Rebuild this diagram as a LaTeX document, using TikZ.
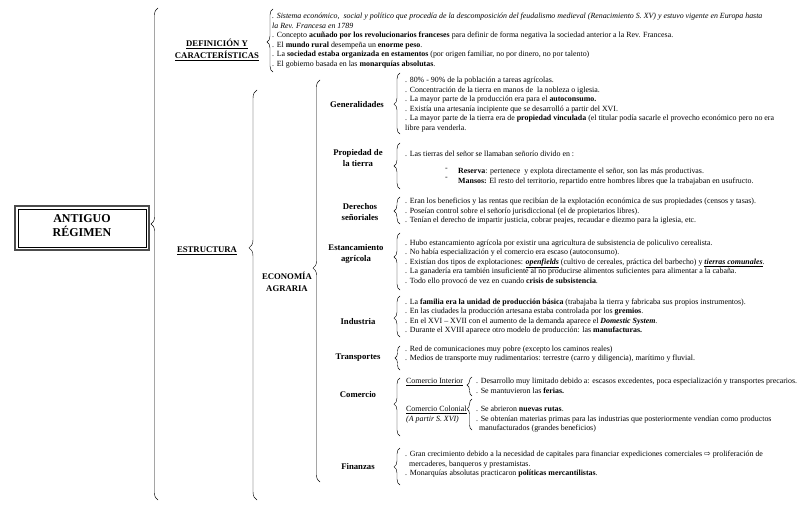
\documentclass[tikz,border=0pt]{standalone}
\usepackage{fontspec}
\setmainfont{Liberation Serif}
\newfontfamily\djv{DejaVu Sans}
\usetikzlibrary{decorations.pathreplacing}
\tikzset{
  txt/.style={anchor=north west, inner sep=0pt, align=left, font=\fontsize{7.9}{9.55}\selectfont},
  lab/.style={inner sep=0pt, align=center, font=\bfseries\fontsize{8.7}{11.5}\selectfont},
  brc/.style={decorate, line width=0.45pt},
}
\begin{document}
\begin{tikzpicture}[x=1pt,y=-1pt]
\useasboundingbox (0,0) rectangle (800,506);
% main box
\draw[line width=1.4pt, black!70] (15,206) rectangle (149,250);
\draw[line width=0.45pt] (17.8,208.8) rectangle (146.2,247.2);
\node[inner sep=0pt, align=center, font=\bfseries\fontsize{12}{14}\selectfont] (ar) at (82,226) {ANTIGUO\\RÉGIMEN};
% level 1 labels
\node[lab] (def) at (217,50) {\underline{DEFINICIÓN Y}\\\underline{CARACTERÍSTICAS}};
\node[lab] (est) at (207,251) {\underline{ESTRUCTURA}};
\node[lab] (eco) at (287,282) {ECONOMÍA\\AGRARIA};
% braces level
\coordinate (b1t) at (158,8); \coordinate (b1b) at (158,500);
\draw[brc, decoration={brace, amplitude=7pt, aspect=0.561}] (b1b) -- (b1t);
\coordinate (b2t) at (273,9); \coordinate (b2b) at (273,72);
\draw[brc, decoration={brace, amplitude=6pt, aspect=0.476}] (b2b) -- (b2t);
\coordinate (b3t) at (257,90); \coordinate (b3b) at (257,500);
\draw[brc, decoration={brace, amplitude=8pt, aspect=0.615}] (b3b) -- (b3t);
\coordinate (b4t) at (320,80); \coordinate (b4b) at (320,482);
\draw[brc, decoration={brace, amplitude=7pt, aspect=0.532}] (b4b) -- (b4t);
% definition text
\node[txt] (deft) at (272,13) {{\itshape . Sistema económico,\ \ social y político que procedía de la descomposición del feudalismo medieval (Renacimiento S. XV) y estuvo vigente en Europa hasta}\\
{\itshape la Rev. Francesa en 1789}\\
. Concepto \textbf{acuñado por los revolucionarios franceses} para definir de forma negativa la sociedad anterior a la Rev. Francesa.\\
. El \textbf{mundo rural} desempeña un \textbf{enorme peso}.\\
. La \textbf{sociedad estaba organizada en estamentos} (por origen familiar, no por dinero, no por talento)\\
. El gobierno basada en las \textbf{monarquías absolutas}.};
% sub labels
\node[lab] (gen) at (357,105) {Generalidades};
\node[lab] (pro) at (358,158) {Propiedad de\\la tierra};
\node[lab] (der) at (360,212) {Derechos\\señoriales};
\node[lab] (esa) at (356,254) {Estancamiento\\agrícola};
\node[lab] (ind) at (358,322) {Industria};
\node[lab] (tra) at (358,358) {Transportes};
\node[lab] (com) at (358,395) {Comercio};
\node[lab] (fin) at (358,467) {Finanzas};
% sub braces
\coordinate (g1) at (400,73); \coordinate (g2) at (400,134);
\draw[brc, decoration={brace, amplitude=6pt, aspect=0.49}] (g2) -- (g1);
\coordinate (p1) at (400,143); \coordinate (p2) at (400,189);
\draw[brc, decoration={brace, amplitude=6pt, aspect=0.5}] (p2) -- (p1);
\coordinate (d1) at (400,197); \coordinate (d2) at (400,224);
\draw[brc, decoration={brace, amplitude=6pt, aspect=0.48}] (d2) -- (d1);
\coordinate (e1) at (400,233); \coordinate (e2) at (400,290);
\draw[brc, decoration={brace, amplitude=6pt, aspect=0.58}] (e2) -- (e1);
\coordinate (i1) at (400,296); \coordinate (i2) at (400,337);
\draw[brc, decoration={brace, amplitude=6pt, aspect=0.46}] (i2) -- (i1);
\coordinate (t1) at (400,346); \coordinate (t2) at (400,370);
\draw[brc, decoration={brace, amplitude=5pt, aspect=0.5}] (t2) -- (t1);
\coordinate (c1) at (400,378); \coordinate (c2) at (400,436);
\draw[brc, decoration={brace, amplitude=6pt, aspect=0.55}] (c2) -- (c1);
\coordinate (ci1) at (472,377); \coordinate (ci2) at (472,396);
\draw[brc, decoration={brace, amplitude=5pt, aspect=0.58}] (ci2) -- (ci1);
\coordinate (cc1) at (472,399); \coordinate (cc2) at (472,430);
\draw[brc, decoration={brace, amplitude=5pt, aspect=0.68}] (cc2) -- (cc1);
\coordinate (f1) at (400,448); \coordinate (f2) at (400,485);
\draw[brc, decoration={brace, amplitude=6pt, aspect=0.49}] (f2) -- (f1);
% texts
\node[txt] (gent) at (405,77) {. 80\% - 90\% de la población a tareas agrícolas.\\
. Concentración de la tierra en manos de\ \ la nobleza o iglesia.\\
. La mayor parte de la producción era para el \textbf{autoconsumo.}\\
. Existía una artesanía incipiente que se desarrolló a partir del XVI.\\
. La mayor parte de la tierra era de \textbf{propiedad vinculada} (el titular podía sacarle el provecho económico pero no era\\
libre para venderla.};
\node[txt] (prot) at (405,151) {. Las tierras del señor se llamaban señorío divido en :};
\node[txt] (prod) at (445,168) {-\\-};
\node[txt] (prol) at (458,168) {\textbf{Reserva}: pertenece\ \ y explota directamente el señor, son las más productivas.\\
\textbf{Mansos:} El resto del territorio, repartido entre hombres libres que la trabajaban en usufructo.};
\node[txt] (dert) at (405,198) {. Eran los beneficios y las rentas que recibían de la explotación económica de sus propiedades (censos y tasas).\\
. Poseían control sobre el señorío jurisdiccional (el de propietarios libres).\\
. Tenían el derecho de impartir justicia, cobrar peajes, recaudar e diezmo para la iglesia, etc.};
\node[txt] (esat) at (405,239.5) {. Hubo estancamiento agrícola por existir una agricultura de subsistencia de policulivo cerealista.\\
. No había especialización y el comercio era escaso (autoconsumo).\\
. Existían dos tipos de explotaciones: \textbf{\textit{\underline{openfields}}} (cultivo de cereales, práctica del barbecho) y \textbf{\textit{\underline{tierras comunales}}}.\\
. La ganadería era también insuficiente al no producirse alimentos suficientes para alimentar a la cabaña.\\
. Todo ello provocó de vez en cuando \textbf{crisis de subsistencia}.};
\node[txt] (indt) at (405,298.5) {. La \textbf{familia era la unidad de producción básica} (trabajaba la tierra y fabricaba sus propios instrumentos).\\
. En las ciudades la producción artesana estaba controlada por los \textbf{gremios}.\\
. En el XVI – XVII con el aumento de la demanda aparece el \textbf{\textit{Domestic System}}.\\
. Durante el XVIII aparece otro modelo de producción: las \textbf{manufacturas.}};
\node[txt] (trat) at (405,345.5) {. Red de comunicaciones muy pobre (excepto los caminos reales)\\
. Medios de transporte muy rudimentarios: terrestre (carro y diligencia), marítimo y fluvial.};
\node[txt] (ci) at (406,378) {\underline{Comercio Interior}};
\node[txt] (cc) at (406,406) {\underline{Comercio Colonial}\\\textit{(A partir S. XVI)}};
\node[txt] (cit) at (476,378) {. Desarrollo muy limitado debido a: escasos excedentes, poca especialización y transportes precarios.\\
. Se mantuvieron las \textbf{ferias.}};
\node[txt] (cct) at (476,406) {. Se abrieron \textbf{nuevas rutas}.\\
. Se obtenían materias primas para las industrias que posteriormente vendían como productos\\
\hspace{3pt}manufacturados (grandes beneficios)};
\node[txt] (fint) at (405,451) {. Gran crecimiento debido a la necesidad de capitales para financiar expediciones comerciales {\djv ⇨} proliferación de\\
\hspace{4pt}mercaderes, banqueros y prestamistas.\\
. Monarquías absolutas practicaron \textbf{políticas mercantilistas}.};
\end{tikzpicture}
\end{document}
